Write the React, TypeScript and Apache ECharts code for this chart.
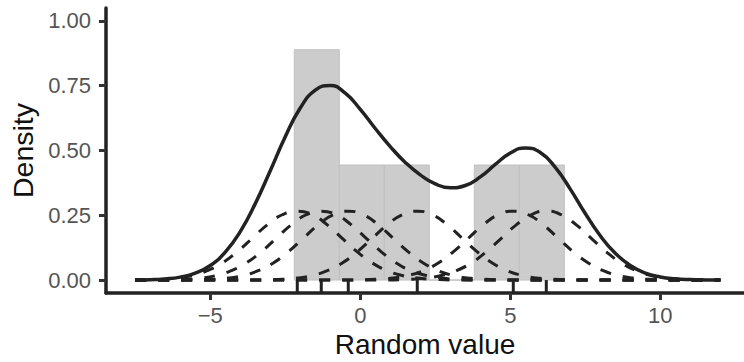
import React, { useEffect, useRef } from "react";
import * as echarts from "echarts";

// Data points (rug)
const CENTERS = [-2.1, -1.3, -0.4, 1.9, 5.1, 6.2];

// Histogram bins
const BIN_START = [-2.2, -0.7, 0.8, 2.3, 3.8, 5.3];
const BIN_END = [-0.7, 0.8, 2.3, 3.8, 5.3, 6.8];
const BIN_HEIGHT = [0.889, 0.444, 0.444, 0, 0.444, 0.444];

// Shape of one kernel (offset from its centre, height)
const KERNEL_OFFSETS = [-5.5, -4.5, -4, -3.5, -3, -2.5, -2, -1.5, -1, -0.5, 0, 0.5, 1, 1.5, 2, 2.5, 3, 3.5, 4, 4.5, 5.5];
const KERNEL_HEIGHTS = [0.0003, 0.003, 0.0076, 0.0175, 0.036, 0.066, 0.109, 0.161, 0.213, 0.252, 0.266, 0.252, 0.213, 0.161, 0.109, 0.066, 0.036, 0.0175, 0.0076, 0.003, 0.0003];

// Solid density curve
const KDE_X = [-7.5, -7, -6.5, -6, -5.5, -5, -4.5, -4, -3.5, -3, -2.5, -2, -1.5, -1, -0.5, 0, 0.5, 1, 1.5, 2, 2.5, 3, 3.5, 4, 4.5, 5, 5.5, 6, 6.5, 7, 7.5, 8, 8.5, 9, 9.5, 10, 10.5, 11, 11.5, 12];
const KDE_Y = [0.0005, 0.0015, 0.0043, 0.0113, 0.0265, 0.056, 0.108, 0.187, 0.295, 0.422, 0.553, 0.664, 0.733, 0.751, 0.721, 0.659, 0.585, 0.515, 0.454, 0.406, 0.371, 0.356, 0.365, 0.398, 0.446, 0.49, 0.51, 0.492, 0.435, 0.351, 0.257, 0.171, 0.103, 0.056, 0.027, 0.012, 0.0048, 0.0017, 0.0005, 0.0001];

const X_TICKS = [-5, 0, 5, 10];
const Y_TICKS = [0, 0.25, 0.5, 0.75, 1];

const CURVE_START = -7.5;
const CURVE_END = 12;

export default function App() {
  const ref = useRef<HTMLDivElement>(null);

  useEffect(() => {
    if (!ref.current) return;
    const chart = echarts.init(ref.current, undefined, { renderer: "svg" });

    const font = "'Liberation Sans', Arial, Helvetica, sans-serif";
    const ink = "#222222";

    const kernelSeries = CENTERS.map((c) => {
      const pts: number[][] = [[CURVE_START, 0]];
      KERNEL_OFFSETS.forEach((o, i) => {
        const x = c + o;
        if (x > CURVE_START && x < CURVE_END) pts.push([x, KERNEL_HEIGHTS[i]]);
      });
      pts.push([CURVE_END, 0]);
      return {
        type: "line",
        data: pts,
        showSymbol: false,
        symbol: "none",
        smooth: 0.5,
        z: 3,
        lineStyle: { color: ink, width: 3, type: [11, 12], cap: "butt" },
        silent: true,
      };
    });

    const option: any = {
      animation: false,
      backgroundColor: "#ffffff",
      grid: { left: 106, top: 8, right: 0, bottom: 69, containLabel: false, outerBoundsMode: "none" },
      xAxis: {
        type: "value",
        min: -8.475,
        max: 12.79,
        name: "Random value",
        nameLocation: "middle",
        nameGap: 37,
        nameTextStyle: { fontFamily: font, fontSize: 28, color: "#111111" },
        axisLine: { show: true, onZero: false, lineStyle: { color: ink, width: 3.5 } },
        axisTick: { show: true, length: 7, lineStyle: { color: "#333333", width: 3 }, customValues: X_TICKS },
        axisLabel: {
          fontFamily: font,
          fontSize: 22,
          color: "#555555",
          margin: 11,
          customValues: X_TICKS,
          formatter: (v: number) => (v < 0 ? "\u2212" + Math.abs(v) : String(v)),
        },
        splitLine: { show: false },
      },
      yAxis: {
        type: "value",
        min: -0.05,
        max: 1.05,
        name: "Density",
        nameLocation: "middle",
        nameGap: 69,
        nameTextStyle: { fontFamily: font, fontSize: 28.5, color: "#111111" },
        axisLine: { show: true, onZero: false, lineStyle: { color: ink, width: 3.5 } },
        axisTick: { show: true, length: 7, lineStyle: { color: "#333333", width: 3 }, customValues: Y_TICKS },
        axisLabel: {
          fontFamily: font,
          fontSize: 22,
          color: "#555555",
          margin: 15,
          customValues: Y_TICKS,
          formatter: (v: number) => v.toFixed(2),
        },
        splitLine: { show: false },
      },
      series: [
        {
          type: "custom",
          z: 1,
          silent: true,
          data: BIN_START.map((s, i) => [s, BIN_END[i], BIN_HEIGHT[i]]),
          encode: { x: [0, 1], y: 2 },
          renderItem: (params: any, api: any) => {
            const p0 = api.coord([api.value(0), api.value(2)]);
            const p1 = api.coord([api.value(1), 0]);
            return {
              type: "rect",
              shape: { x: p0[0], y: p0[1], width: p1[0] - p0[0], height: p1[1] - p0[1] },
              style: { fill: "#cccccc", stroke: "#c0c0c0", lineWidth: 1 },
            };
          },
        },
        ...kernelSeries,
        {
          type: "line",
          data: KDE_X.map((x, i) => [x, KDE_Y[i]]),
          showSymbol: false,
          symbol: "none",
          smooth: 0.5,
          z: 4,
          silent: true,
          lineStyle: { color: ink, width: 3.5 },
        },
        {
          type: "custom",
          z: 5,
          silent: true,
          data: CENTERS.map((c) => [c, 0]),
          encode: { x: 0, y: 1 },
          renderItem: (params: any, api: any) => {
            const top = api.coord([api.value(0), 0]);
            const bottom = api.coord([api.value(0), -0.05]);
            return {
              type: "line",
              shape: { x1: top[0], y1: top[1], x2: bottom[0], y2: bottom[1] },
              style: { stroke: ink, lineWidth: 3 },
            };
          },
        },
      ],
    };

    chart.setOption(option);
    return () => chart.dispose();
  }, []);

  return (
    <div
      ref={ref}
      style={{ position: "absolute", left: 0, top: 0, width: 744, height: 362, background: "#fff" }}
    />
  );
}
